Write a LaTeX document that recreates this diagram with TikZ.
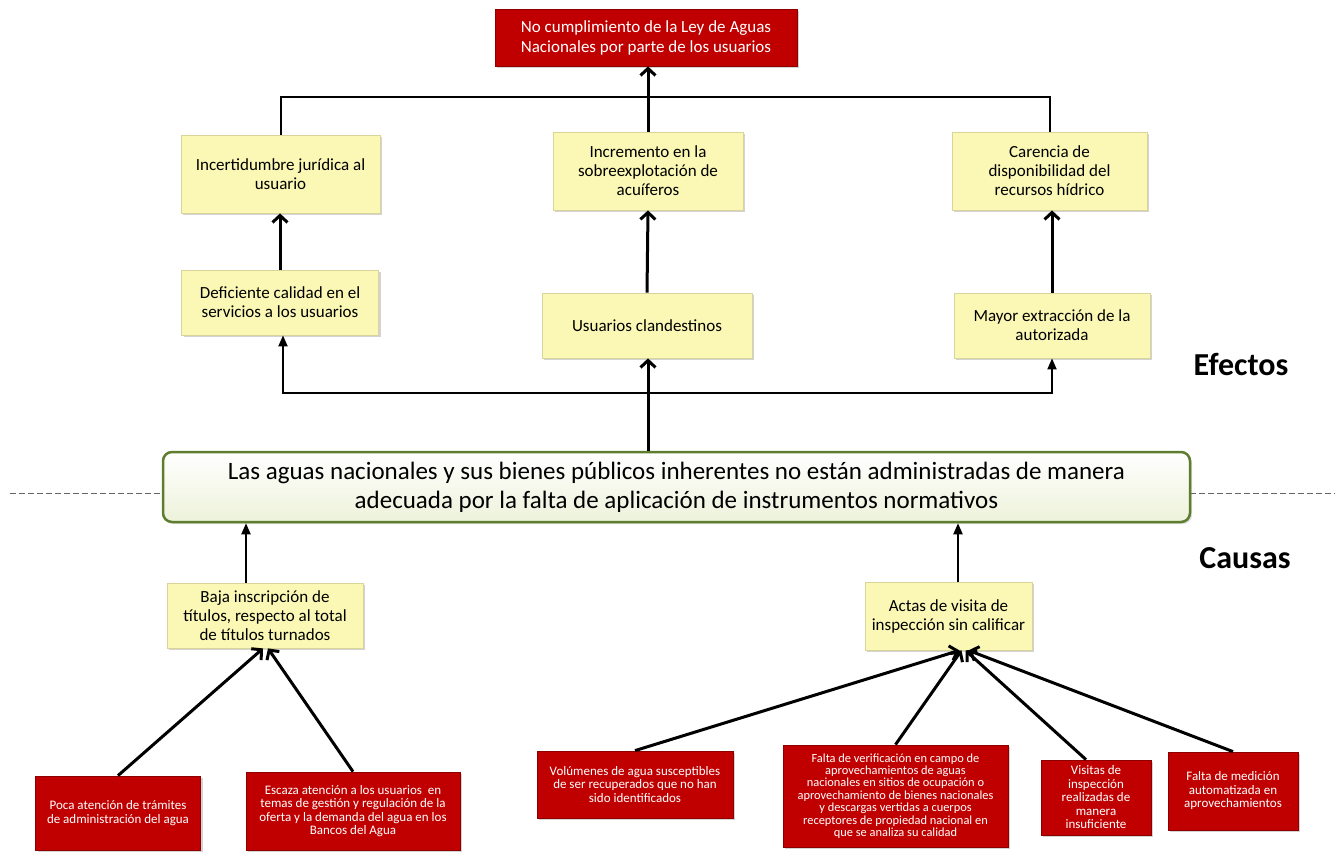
\documentclass[tikz,border=0pt]{standalone}
\usepackage{fontspec}
\setmainfont{Carlito}
\usetikzlibrary{arrows.meta,shadows,calc}
\definecolor{ybox}{HTML}{FAF8B4}
\definecolor{yedge}{HTML}{D9D59A}
\definecolor{rbox}{HTML}{C00000}
\definecolor{redge}{HTML}{8E0000}
\definecolor{gedge}{HTML}{5E7D2E}
\definecolor{gfill}{HTML}{EDF2DA}
\tikzset{
  yel/.style={draw=yedge, fill=ybox, line width=0.8pt, align=center, inner sep=2pt,
    font=\fontsize{17}{19}\selectfont,
    drop shadow={shadow xshift=2pt, shadow yshift=-2pt, opacity=0.35}},
  red/.style={draw=redge, fill=rbox, text=white, line width=0.8pt, align=center, inner sep=2pt,
    drop shadow={shadow xshift=2pt, shadow yshift=-2pt, opacity=0.35}},
  redsmall/.style={red, font=\fontsize{13}{13.5}\selectfont},
  thickarrow/.style={line width=3pt, -{Straight Barb[length=7pt,width=15pt,line width=3pt]}},
  thinarrow/.style={line width=2pt, -{Triangle[length=11pt,width=9pt]}},
  plainline/.style={line width=2pt},
  sepline/.style={line width=1pt, draw=black!60, dash pattern=on 6pt off 3pt},
  title/.style={font=\fontsize{32}{36}\selectfont\bfseries}
}
\begin{document}
\begin{tikzpicture}[x=1pt,y=-1pt]
\useasboundingbox (0,0) rectangle (1344,852);
% dashed separator
\coordinate (dl) at (10,493);
\coordinate (dr) at (1335,493);
% top
\node[red, font=\fontsize{17}{20}\selectfont, minimum width=302pt, minimum height=57pt] (top) at (646,37.5) {No cumplimiento de la Ley de Aguas\\Nacionales por parte de los usuarios};
% effects upper
\node[yel, minimum width=199pt, minimum height=78pt] (inc) at (280.5,174) {Incertidumbre jurídica al\\usuario};
\node[yel, minimum width=190pt, minimum height=78pt] (incr) at (648,171) {Incremento en la\\sobreexplotación de\\acuíferos};
\node[yel, minimum width=195pt, minimum height=78pt] (car) at (1049.5,171) {Carencia de\\disponibilidad del\\recursos hídrico};
% effects lower
\node[yel, minimum width=197pt, minimum height=65pt] (def) at (280,302.5) {Deficiente calidad en el\\servicios a los usuarios};
\node[yel, minimum width=210pt, minimum height=65pt] (usu) at (647,325.5) {Usuarios clandestinos};
\node[yel, minimum width=196pt, minimum height=65pt] (may) at (1052,325.5) {Mayor extracción de la\\autorizada};
% main problem
\draw[sepline] (dl) -- (163,493);
\draw[sepline] (1190,493) -- (dr);
\node[draw=gedge, line width=2.5pt, rounded corners=9pt, top color=white, bottom color=gfill,
  minimum width=1027pt, minimum height=70pt, align=center, font=\fontsize{25}{29}\selectfont,
  drop shadow={shadow xshift=2pt, shadow yshift=-2pt, opacity=0.25}] (main) at (676.5,487)
  {Las aguas nacionales y sus bienes públicos inherentes no están administradas de manera\\adecuada por la falta de aplicación de instrumentos normativos};
% titles
\node[title] (efe) at (1241,364) {Efectos};
\node[title] (cau) at (1245,558) {Causas};
% causes
\node[yel, minimum width=196pt, minimum height=65pt] (baja) at (265,615.5) {Baja inscripción de\\títulos, respecto al total\\de títulos turnados};
\node[yel, minimum width=167pt, minimum height=68pt] (actas) at (948.5,616) {Actas de visita de\\inspección sin calificar};
% root causes
\node[redsmall, minimum width=165pt, minimum height=74pt] (poca) at (118,813) {Poca atención de trámites\\de administración del agua};
\node[redsmall, minimum width=214pt, minimum height=78pt] (esc) at (353,811) {Escaza atención a los usuarios \ en\\temas de gestión y regulación de la\\oferta y la demanda del agua en los\\Bancos del Agua};
\node[redsmall, minimum width=196pt, minimum height=67pt] (vol) at (635,784.5) {Volúmenes de agua susceptibles\\de ser recuperados que no han\\sido identificados};
\node[red, font=\fontsize{12.4}{12.4}\selectfont, minimum width=225pt, minimum height=102pt, inner sep=1pt] (fver) at (895.5,796) {Falta de verificación en campo de\\aprovechamientos de aguas\\nacionales en sitios de ocupación o\\aprovechamiento de bienes nacionales\\y descargas vertidas a cuerpos\\receptores de propiedad nacional en\\que se analiza su calidad};
\node[redsmall, minimum width=110pt, minimum height=75pt, inner sep=1pt] (vis) at (1096,797.5) {Visitas de\\inspección\\realizadas de\\manera\\insuficiente};
\node[redsmall, minimum width=130pt, minimum height=78pt] (fmed) at (1233,791) {Falta de medición\\automatizada en\\aprovechamientos};
% connectors effects
\draw[plainline] (inc.north) |- (648,97) -| (car.north);
\draw[thickarrow] (incr.north) -- (top.south -| incr.north);
\draw[thickarrow] (def.north) -- (inc.south -| def.north);
\draw[thickarrow] (usu.north) -- (incr.south);
\draw[thickarrow] (may.north) -- (car.south -| may.north);
\coordinate (hub) at (648,393);
\draw[thickarrow] (main.north -| hub) -- (usu.south -| hub);
\draw[thinarrow] (hub) -| ([xshift=3pt]def.south);
\draw[thinarrow] (hub) -| (may.south);
% connectors causes
\draw[thinarrow] (baja.north -| 246,0) -- (main.south -| 246,0);
\draw[thinarrow] (actas.north -| 958,0) -- (main.south -| 958,0);
\draw[thickarrow] (poca.north) -- ([xshift=-2pt]baja.south);
\draw[thickarrow] (esc.north) -- ([xshift=3pt]baja.south);
\draw[thickarrow] (vol.north) -- ([xshift=11pt]actas.south);
\draw[thickarrow] (fver.north) -- ([xshift=13pt]actas.south);
\draw[thickarrow] ([xshift=-10pt]vis.north) -- ([xshift=17pt]actas.south);
\draw[thickarrow] (fmed.north) -- ([xshift=20pt]actas.south);
\end{tikzpicture}
\end{document}
